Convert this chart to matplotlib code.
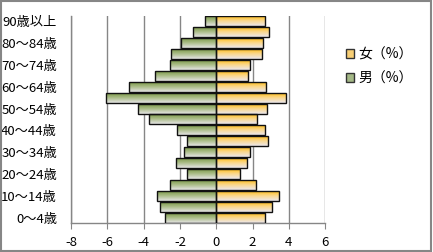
import matplotlib.pyplot as plt
import matplotlib.patches as mpatches
import numpy as np
from matplotlib.colors import LinearSegmentedColormap

plt.rcParams['font.family'] = ['Noto Sans CJK JP', 'DejaVu Sans']
plt.rcParams['axes.unicode_minus'] = False

# age groups, bottom to top
ages = ['0～4歳', '5～9歳', '10～14歳', '15～19歳', '20～24歳', '25～29歳',
        '30～34歳', '35～39歳', '40～44歳', '45～49歳', '50～54歳', '55～59歳',
        '60～64歳', '65～69歳', '70～74歳', '75～79歳', '80～84歳', '85～89歳',
        '90歳以上']
male = [-2.81, -3.10, -3.27, -2.53, -1.59, -2.20, -1.78, -1.59, -2.17, -3.71,
        -4.32, -6.07, -4.82, -3.38, -2.53, -2.47, -1.92, -1.28, -0.60]
female = [2.71, 3.09, 3.48, 2.21, 1.33, 1.71, 1.88, 2.84, 2.71, 2.27,
          2.82, 3.83, 2.76, 1.77, 1.88, 2.54, 2.60, 2.92, 2.71]

green_cm = LinearSegmentedColormap.from_list('g', ['#71903a', '#a9bb86', '#e6e6e6'])
orange_cm = LinearSegmentedColormap.from_list('o', ['#ffb800', '#fbd78a', '#ebe8ee'])

fig = plt.figure(figsize=(4.33, 2.52), dpi=100)
ax = fig.add_axes([0.164, 0.115, 0.587, 0.822])

grad = np.linspace(0, 1, 64).reshape(-1, 1)


def gradient_bars(bars, cmap):
    for b in bars:
        x0, y0, w, h = b.get_x(), b.get_y(), b.get_width(), b.get_height()
        im = ax.imshow(grad, cmap=cmap, aspect='auto', origin='upper',
                       extent=(x0, x0 + w, y0, y0 + h), zorder=2)
        im.set_clip_path(b)


y = np.arange(len(ages))
fb = ax.barh(y, female, height=0.92, facecolor='none', edgecolor='#111111',
             linewidth=1.0, zorder=3)
mb = ax.barh(y, male, height=0.92, facecolor='none', edgecolor='#111111',
             linewidth=1.0, zorder=3)
gradient_bars(fb, orange_cm)
gradient_bars(mb, green_cm)

ax.set_xlim(-8, 6)
ax.set_ylim(-0.5, len(ages) - 0.5)
ax.set_xticks(range(-8, 7, 2))
ax.set_yticks(y[::2])
ax.set_yticklabels(ages[::2])
ax.tick_params(axis='y', length=0, labelsize=9.5, pad=10)
ax.tick_params(axis='x', length=4, color='#868686', labelsize=9.5, pad=5)
ax.grid(axis='x', color='#868686', linewidth=1.0, zorder=0)
ax.set_axisbelow(True)
for s in ['top', 'right']:
    ax.spines[s].set_visible(False)
for s in ['left', 'bottom']:
    ax.spines[s].set_color('#868686')
    ax.spines[s].set_linewidth(1.0)

handles = [mpatches.Patch(facecolor='#f8cf75', edgecolor='#333333', label='女（%）'),
           mpatches.Patch(facecolor='#a4b886', edgecolor='#333333', label='男（%）')]
fig.legend(handles=handles, loc='upper left', bbox_to_anchor=(0.77, 0.86),
           frameon=False, fontsize=10, handlelength=0.6, handleheight=0.6,
           handletextpad=0.3, labelspacing=0.7)

fig.patches.append(mpatches.Rectangle((0.002, 0.004), 0.993, 0.992,
                                      transform=fig.transFigure, fill=False,
                                      edgecolor='#868686', linewidth=1.5))

fig.savefig('out.png', dpi=100)
